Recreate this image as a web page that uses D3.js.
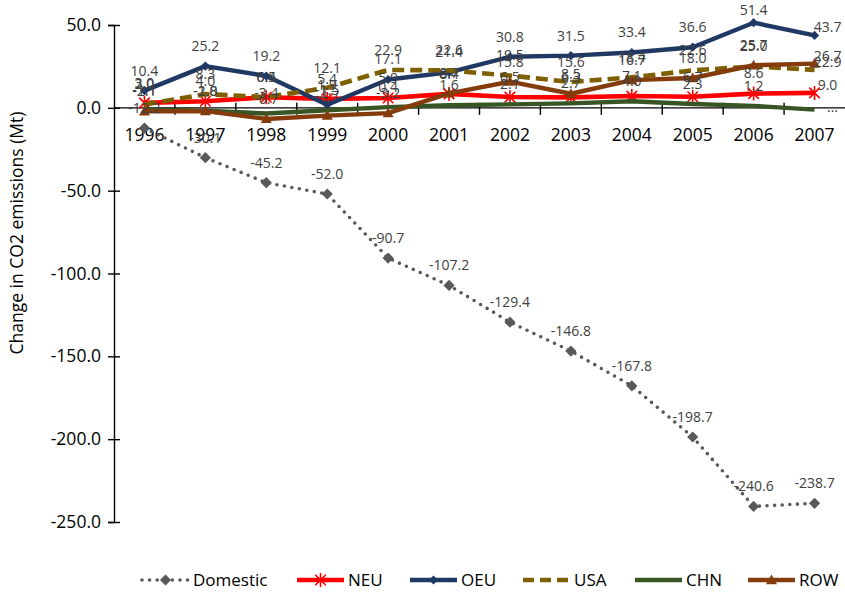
<!DOCTYPE html>
<html><head><meta charset="utf-8">
<script src="https://cdn.jsdelivr.net/npm/d3@7"></script>
<style>
html,body{margin:0;padding:0;background:#fff;}
svg{display:block;font-family:"Open Sans",sans-serif;}
</style></head>
<body><svg id="chart" width="845" height="593"></svg>
<script>
const years = ["1996","1997","1998","1999","2000","2001","2002","2003","2004","2005","2006","2007"];
const domestic = [-12.2,-30.1,-45.2,-52.0,-90.7,-107.2,-129.4,-146.8,-167.8,-198.7,-240.6,-238.7];
const neu = [3.0,4.0,6.4,5.4,5.9,8.4,6.5,6.3,7.1,6.7,8.6,9.0];
const oeu = [10.4,25.2,19.2,1.9,17.1,21.4,30.8,31.5,33.4,36.6,51.4,43.7];
const usa = [2.0,8.3,6.5,12.1,22.9,22.6,19.5,15.6,18.4,22.6,25.0,22.9];
const chn = [-1.1,-1.8,-3.4,-1.5,0.4,1.6,2.1,2.7,4.0,2.3,1.2,-1.1];
const row = [-2.1,-2.0,-6.7,-4.7,-3.2,8.7,15.8,8.5,16.7,18.0,25.7,26.7];
const yTicks = [50,0,-50,-100,-150,-200,-250];
const yTitle = "Change in CO2 emissions (Mt)";

const series = [
  {name:"Domestic", values:domestic, color:"#595959", width:3.6, dash:"0 7.6", cap:"round", marker:"diamondBig"},
  {name:"NEU", values:neu, color:"#FF0000", width:4.6, dash:null, cap:"butt", marker:"star"},
  {name:"OEU", values:oeu, color:"#203864", width:4.4, dash:null, cap:"butt", marker:"diamond"},
  {name:"USA", values:usa, color:"#7F6000", width:4.6, dash:"12 6", cap:"butt", marker:null},
  {name:"CHN", values:chn, color:"#375623", width:4.4, dash:null, cap:"butt", marker:null},
  {name:"ROW", values:row, color:"#843C0C", width:4.4, dash:null, cap:"butt", marker:"triangle"}
];

const fmt = v => d3.format(".1f")(v).replace("\u2212","-");

const svg = d3.select("#chart");
const W = 845;
const x = d3.scaleBand().domain(years).range([114, 845]);
const y = d3.scaleLinear().domain([-250, 50]).range([522, 25]);
const cx = d => x(d) + x.bandwidth()/2;

// Y axis
const yAxis = svg.append("g").attr("transform","translate(114,0)")
  .call(d3.axisLeft(y).tickValues(yTicks).tickFormat(fmt).tickSize(6).tickPadding(7));
yAxis.select(".domain").attr("stroke","#000").attr("stroke-width",1.4);
yAxis.selectAll(".tick line").attr("stroke","#000").attr("stroke-width",1.4).attr("x1",6).attr("x2",-6);
yAxis.selectAll(".tick text").attr("font-size","17.5px").attr("fill","#000").attr("font-family","Open Sans").attr("x",-13);

// X axis at zero
const xAxisG = svg.append("g").attr("transform",`translate(0,${y(0)})`);
xAxisG.append("line").attr("x1",114).attr("x2",W).attr("y1",0).attr("y2",0).attr("stroke","#000").attr("stroke-width",1.4);
years.slice(1).forEach(yr => {
  xAxisG.append("line").attr("x1",x(yr)).attr("x2",x(yr)).attr("y1",-5).attr("y2",7).attr("stroke","#000").attr("stroke-width",1.4);
});
years.forEach(yr => {
  xAxisG.append("text").attr("x",cx(yr)).attr("y",33).attr("text-anchor","middle")
    .attr("font-size","17.5px").attr("fill","#000").text(yr);
});

// Y title
svg.append("text").attr("transform","translate(23,233) rotate(-90)").attr("text-anchor","middle")
  .attr("font-size","17.5px").attr("fill","#000").text(yTitle);

// Markers
function drawMarker(g, type, color, px, py) {
  if (type === "diamondBig" || type === "diamond") {
    const r = type === "diamondBig" ? 5.6 : 4.6;
    g.append("path").attr("d",`M${px},${py-r}L${px+r},${py}L${px},${py+r}L${px-r},${py}Z`).attr("fill",color);
  } else if (type === "star") {
    const r = 7;
    const a = r*0.75;
    g.append("path").attr("d",`M${px},${py-r}L${px},${py+r}M${px-a},${py-a}L${px+a},${py+a}M${px-a},${py+a}L${px+a},${py-a}`)
      .attr("stroke",color).attr("stroke-width",1.6).attr("fill","none");
  } else if (type === "triangle") {
    const r = 5.5;
    g.append("path").attr("d",`M${px},${py-r}L${px+r},${py+r*0.75}L${px-r},${py+r*0.75}Z`).attr("fill",color);
  }
}

const line = d3.line().x((d,i)=>cx(years[i])).y(d=>y(d));
const linesG = svg.append("g");
series.forEach(s => {
  const g = linesG.append("g");
  g.append("path").datum(s.values).attr("d",line).attr("fill","none")
    .attr("stroke",s.color).attr("stroke-width",s.width).attr("stroke-linecap",s.cap)
    .attr("stroke-linejoin","round")
    .attr("stroke-dasharray",s.dash);
  if (s.marker) s.values.forEach((v,i)=>drawMarker(g, s.marker, s.color, cx(years[i]), y(v)));
});

// Data labels
const labelsG = svg.append("g").attr("font-size","14px").attr("fill","#404040").attr("text-anchor","middle");
const last = years.length - 1;
series.forEach(s => {
  s.values.forEach((v,i) => {
    let lx = cx(years[i]), ly = y(v) - 20;
    let txt = fmt(v);
    if (i === last && s.name !== "Domestic") {
      lx += 13; ly = y(v) - 8;
      if (s.name === "CHN") { txt = "..."; ly = y(v) - 3; lx += 5; }
    }
    if (ly < 10) ly = 10;
    labelsG.append("text").attr("x",lx).attr("y",ly).attr("dy","0.35em").text(txt);
  });
});

// Legend
const legend = svg.append("g").attr("transform","translate(0,580)");
const legendPos = [142, 297, 410, 523, 635, 748];
series.forEach((s,i) => {
  const x0 = legendPos[i], len = 47;
  const g = legend.append("g");
  g.append("line").attr("x1",x0).attr("x2",x0+len).attr("y1",0).attr("y2",0)
    .attr("stroke",s.color).attr("stroke-width",s.width).attr("stroke-linecap",s.cap)
    .attr("stroke-dasharray", s.name==="USA" ? "11 6" : s.dash);
  if (s.marker) drawMarker(g, s.marker, s.color, x0+len/2, 0);
  g.append("text").attr("x",x0+len+4).attr("y",0).attr("dy","0.35em")
    .attr("font-size","17px").attr("fill","#000").text(s.name);
});
</script></body></html>
